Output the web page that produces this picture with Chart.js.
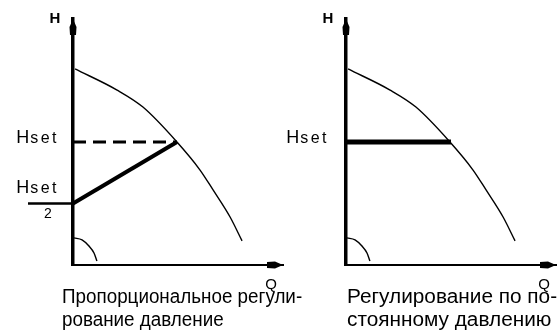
<!DOCTYPE html>
<html>
<head>
<meta charset="utf-8">
<script src="https://cdn.jsdelivr.net/npm/chart.js@4.4.1/dist/chart.umd.min.js"></script>
<style>
  html, body { margin: 0; padding: 0; background: #fff; }
  body { width: 558px; height: 336px; position: relative; overflow: hidden; font-family: "Liberation Sans", Arial, sans-serif; }
  canvas { position: absolute; top: 0; }
  #leftChart { left: 0; }
  #rightChart { left: 273px; }
  .caption { position: absolute; font-size: 20px; line-height: 23px; color: #000; white-space: nowrap; transform-origin: 0 0; }
</style>
</head>
<body>
<canvas id="leftChart" width="290" height="336"></canvas>
<canvas id="rightChart" width="285" height="336"></canvas>
<script>
// pump curve H(Q) (both axes in % of axis length)
const curveQ = [1, 21, 33.3, 49.5, 60.5, 66.7, 74.8, 80.5];
const curveH = [79.7, 71.1, 64.2, 50, 38.6, 30.5, 19.5, 9.8];
// small curve near the origin
const lowQ = [0.5, 4.3, 7.6, 10, 11.4];
const lowH = [11, 10.2, 7.7, 4.9, 1.6];
// set point
const hSet = 50;
const qSet = 49.5;
const axisMax = 100;
const leftCaption = ["Пропорциональное регули-", "рование давление"];
const rightCaption = ["Регулирование по по-", "стоянному давлению"];

function pts(xs, ys) {
    return xs.map((x, i) => ({ x: x, y: ys[i] }));
}

function lineSet(data, width, extra) {
    return Object.assign({
        data: data, showLine: true, borderColor: "#000", borderWidth: width,
        pointRadius: 0, fill: false, clip: false
    }, extra || {});
}

// "H" + spaced "set", right aligned at rightX
function drawHset(ctx, rightX, baseY) {
    ctx.textAlign = "left";
    ctx.font = '18px "Liberation Sans"';
    const hw = ctx.measureText("H").width;
    ctx.font = '16px "Liberation Sans"';
    const sp = 2.5;
    let w = hw + 1;
    for (const c of "set") w += ctx.measureText(c).width + sp;
    let x = rightX - w;
    ctx.font = '18px "Liberation Sans"';
    ctx.fillText("H", x, baseY);
    x += hw + 1;
    ctx.font = '16px "Liberation Sans"';
    for (const c of "set") {
        ctx.fillText(c, x, baseY);
        x += ctx.measureText(c).width + sp;
    }
}

// arrows, axis names and Hset labels
const axisLabels = {
    id: "axisLabels",
    afterDraw(chart, args, opts) {
        const ctx = chart.ctx;
        const xs = chart.scales.x, ys = chart.scales.y;
        const ax = xs.getPixelForValue(0), ay = ys.getPixelForValue(0);
        const top = ys.getPixelForValue(axisMax), right = xs.getPixelForValue(axisMax);
        ctx.save();
        ctx.fillStyle = "#000";
        ctx.beginPath();
        ctx.moveTo(ax, top);
        ctx.lineTo(ax + 3.5, top + 8);
        ctx.lineTo(ax + 3, top + 16);
        ctx.lineTo(ax - 3, top + 16);
        ctx.lineTo(ax - 3.5, top + 8);
        ctx.closePath();
        ctx.fill();
        ctx.beginPath();
        ctx.moveTo(right, ay);
        ctx.lineTo(right - 8, ay - 3.5);
        ctx.lineTo(right - 16, ay - 3);
        ctx.lineTo(right - 16, ay + 3);
        ctx.lineTo(right - 8, ay + 3.5);
        ctx.closePath();
        ctx.fill();

        ctx.textBaseline = "alphabetic";
        ctx.textAlign = "center";
        ctx.font = 'bold 15px "Liberation Sans"';
        ctx.fillText("H", ax - 18, top + 4);
        ctx.font = '15px "Liberation Sans"';
        ctx.fillText("Q", right - 12, ay + 24);

        const yFull = ys.getPixelForValue(hSet);
        if (opts.kind === "prop") {
            const yHalf = ys.getPixelForValue(hSet / 2);
            drawHset(ctx, ax - 14, yFull + 1);
            drawHset(ctx, ax - 14, yHalf - 11);
            ctx.fillRect(ax - 45, yHalf - 1.25, 45, 2.5);
            ctx.textAlign = "center";
            ctx.font = '14px "Liberation Sans"';
            ctx.fillText("2", ax - 25, yHalf + 14);
        } else {
            drawHset(ctx, ax - 17, yFull + 1);
        }
        ctx.restore();
    }
};

function makeChart(id, kind, padRight) {
    const datasets = [
        lineSet(pts(curveQ, curveH), 1.4, { cubicInterpolationMode: "monotone" }),
        lineSet(pts(lowQ, lowH), 1.4, { cubicInterpolationMode: "monotone" })
    ];
    if (kind === "prop") {
        datasets.push(lineSet([{ x: 0, y: hSet }, { x: qSet, y: hSet }], 3, { borderDash: [13, 7] }));
        datasets.push(lineSet([{ x: 0, y: hSet / 2 }, { x: qSet, y: hSet }], 4));
    } else {
        datasets.push(lineSet([{ x: 0, y: hSet }, { x: qSet + 0.5, y: hSet }], 5));
    }
    return new Chart(document.getElementById(id), {
        type: "scatter",
        data: { datasets: datasets },
        options: {
            responsive: false,
            animation: false,
            devicePixelRatio: 1,
            layout: { padding: { left: 73, top: 19, right: padRight, bottom: 71 } },
            plugins: { legend: { display: false }, tooltip: { enabled: false }, axisLabels: { kind: kind } },
            scales: {
                x: {
                    min: 0, max: axisMax,
                    ticks: { display: false },
                    grid: { display: false, drawTicks: false },
                    border: { display: true, color: "#000", width: 2 },
                    afterFit: s => { s.height = 0; }
                },
                y: {
                    min: 0, max: axisMax,
                    ticks: { display: false },
                    grid: { display: false, drawTicks: false },
                    border: { display: true, color: "#000", width: 3.5 },
                    afterFit: s => { s.width = 0; }
                }
            }
        },
        plugins: [axisLabels]
    });
}

makeChart("leftChart", "prop", 7);
makeChart("rightChart", "const", 2);

function placeCaption(lines, left, top, width) {
    const div = document.createElement("div");
    div.className = "caption";
    div.style.left = left + "px";
    div.style.top = top + "px";
    lines.forEach(t => {
        const row = document.createElement("div");
        row.textContent = t;
        div.appendChild(row);
    });
    document.body.appendChild(div);
    // narrow the font so the first line fits the width seen in the picture
    div.style.transform = "scaleX(" + (width / div.offsetWidth) + ")";
}

placeCaption(leftCaption, 62, 285, 240);
placeCaption(rightCaption, 347, 285, 210);
</script>
</body>
</html>
